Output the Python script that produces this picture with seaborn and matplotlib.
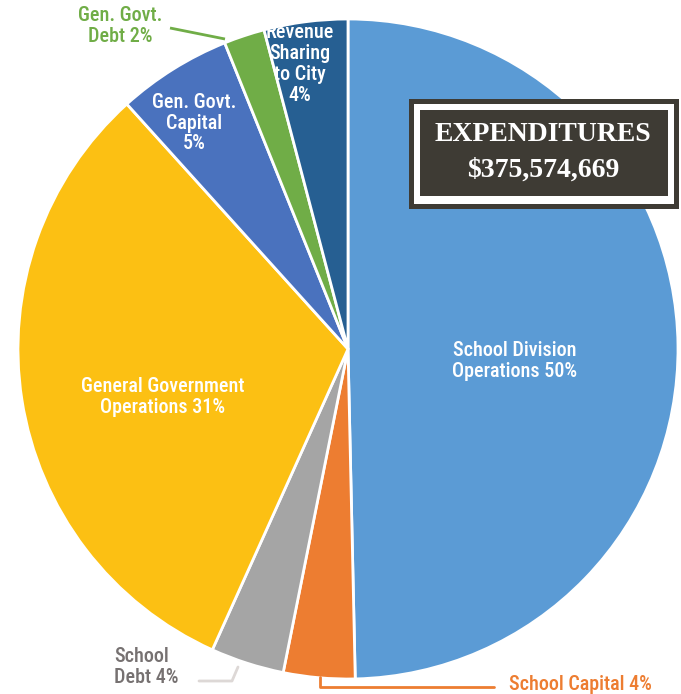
import matplotlib
matplotlib.use("Agg")
import matplotlib.pyplot as plt
import seaborn as sns
from matplotlib.patches import Rectangle
from matplotlib import font_manager as fm

sns.set_theme(style="white")
names = {f.name for f in fm.fontManager.ttflist}
sans = [n for n in ['Roboto Condensed', 'Liberation Sans Narrow', 'Roboto'] if n in names] + ['DejaVu Sans']
plt.rcParams['font.family'] = sans

categories = ["School Division Operations", "School Capital", "School Debt",
              "General Government Operations", "Gen. Govt. Capital",
              "Gen. Govt. Debt", "Revenue Sharing to City"]
shares = [49.7, 3.5, 3.6, 31.6, 5.6, 2.0, 4.1]
colors = ["#5B9BD5", "#ED7D31", "#A5A5A5", "#FCC013", "#4A72BE", "#70AD47", "#265F92"]
title_text = "EXPENDITURES"
total_text = "$375,574,669"

W, H = 681, 694
fig = plt.figure(figsize=(W / 100, H / 100), dpi=100)
ax = fig.add_axes([0, 0, 1, 1])

def Y(p):
    return H - p

ax.pie(shares, colors=colors, startangle=90, counterclock=False,
       center=(348, Y(349)), radius=330,
       wedgeprops=dict(edgecolor="white", linewidth=2))
ax.set_xlim(0, W)
ax.set_ylim(0, H)
ax.set_aspect('equal')
ax.axis('off')

lab = dict(fontsize=14.5, fontweight='medium', ha='center', va='center',
           linespacing=1.12)
ax.text(515, Y(361), "School Division\nOperations 50%", color="white", **lab)
ax.text(163, Y(397), "General Government\nOperations 31%", color="white", **lab)
ax.text(194, Y(123), "Gen. Govt.\nCapital\n5%", color="white", **lab)
ax.text(300, Y(64), "Revenue\nSharing\nto City\n4%", color="white", **lab)
ax.text(120, Y(26), "Gen. Govt.\nDebt 2%", color="#70AD47", **lab)
lab_l = dict(lab, ha='left')
ax.text(114, Y(667), "School\nDebt 4%", color="#767171", **lab_l)
ax.text(509, Y(685), "School Capital 4%", color="#ED7D31", **lab_l)

# leader lines
ax.plot([170, 225], [Y(28), Y(39)], color="#70AD47", lw=2, solid_capstyle='butt')
ax.plot([199, 232, 238], [Y(681), Y(681), Y(667)], color="#DDD8D6", lw=2)
ax.plot([320, 320, 494], [Y(677), Y(687), Y(687)], color="#ED7D31", lw=2)

# title box
ax.add_patch(Rectangle((410.5, Y(205.5)), 265, 105, facecolor="white",
                       edgecolor="#3E3B34", lw=3.6, zorder=5))
ax.add_patch(Rectangle((420, Y(196)), 248, 86, facecolor="#3E3B34",
                       edgecolor="none", zorder=6))
ax.text(543, Y(134), title_text, color="white", fontsize=20, fontweight='bold',
        family=['Liberation Serif', 'DejaVu Serif'], ha='center', va='center', zorder=7)
ax.text(543, Y(170), total_text, color="white", fontsize=20, fontweight='bold',
        family=['Liberation Serif', 'DejaVu Serif'], ha='center', va='center', zorder=7)

fig.savefig("out.png", dpi=100)
